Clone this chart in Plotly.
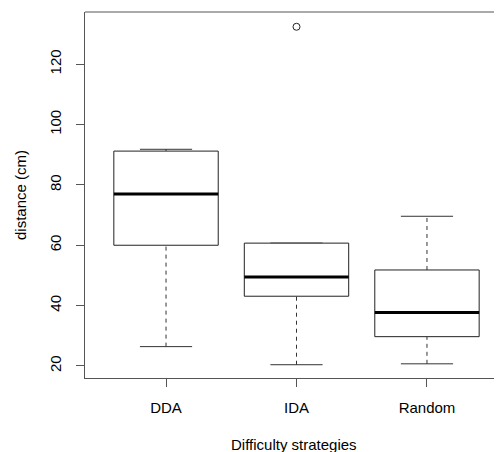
import plotly.graph_objects as go

categories = ["DDA", "IDA", "Random"]
lower_whisker = [26.4, 20.4, 20.7]
q1 = [60.0, 43.1, 29.7]
median = [77.0, 49.5, 37.7]
q3 = [91.2, 60.7, 51.8]
upper_whisker = [91.8, 60.7, 69.6]
outlier_group = ["IDA"]
outlier_values = [132.4]
y_ticks = [20, 40, 60, 80, 100, 120]

FONT = "Liberation Sans, Arial, sans-serif"
BOX_HALF = 0.4
CAP_HALF = 0.2
positions = list(range(1, len(categories) + 1))

fig = go.Figure()
for p, lo, a, m, b, hi in zip(positions, lower_whisker, q1, median, q3, upper_whisker):
    # whiskers (dashed)
    fig.add_trace(go.Scatter(x=[p, p], y=[b, hi], mode="lines",
                             line=dict(color="#333333", width=1, dash="4px,4px"),
                             showlegend=False, hoverinfo="skip"))
    fig.add_trace(go.Scatter(x=[p, p], y=[lo, a], mode="lines",
                             line=dict(color="#333333", width=1, dash="4px,4px"),
                             showlegend=False, hoverinfo="skip"))
    # caps
    for v in (lo, hi):
        fig.add_trace(go.Scatter(x=[p - CAP_HALF, p + CAP_HALF], y=[v, v], mode="lines",
                                 line=dict(color="#333333", width=1),
                                 showlegend=False, hoverinfo="skip"))
    # box
    fig.add_trace(go.Scatter(x=[p - BOX_HALF, p + BOX_HALF, p + BOX_HALF, p - BOX_HALF, p - BOX_HALF],
                             y=[a, a, b, b, a], mode="lines",
                             line=dict(color="#222222", width=1),
                             fill="toself", fillcolor="white",
                             showlegend=False, hoverinfo="skip"))
    # median
    fig.add_trace(go.Scatter(x=[p - BOX_HALF, p + BOX_HALF], y=[m, m], mode="lines",
                             line=dict(color="black", width=3),
                             showlegend=False, hoverinfo="skip"))

out_x = [positions[categories.index(g)] for g in outlier_group]
fig.add_trace(go.Scatter(x=out_x, y=outlier_values, mode="markers",
                         marker=dict(symbol="circle-open", size=7, color="#222222",
                                     line=dict(width=1)),
                         showlegend=False, hoverinfo="skip"))

fig.update_layout(
    width=494, height=444,
    margin=dict(l=77, r=0, t=4, b=74),
    paper_bgcolor="white", plot_bgcolor="white",
    font=dict(family=FONT, size=15, color="black"),
    xaxis=dict(range=[0.379, 3.575], tickmode="array", tickvals=positions, ticktext=categories,
               showgrid=False, zeroline=False, showline=True, linecolor="#555555", linewidth=1,
               ticks="outside", ticklen=8, tickcolor="#555555", ticklabelstandoff=8),
    yaxis=dict(range=[16.0, 137.3], tickmode="array", tickvals=y_ticks,
               showgrid=False, zeroline=False, showline=True, linecolor="#555555", linewidth=1,
               ticks="outside", ticklen=8, tickcolor="#555555", tickangle=-90,
               ticklabelstandoff=9),
    shapes=[dict(type="line", xref="paper", yref="paper", x0=0, x1=1, y0=1, y1=1,
                 line=dict(color="#555555", width=1))],
    annotations=[
        dict(text="Difficulty strategies", xref="paper", yref="paper", x=0.5, y=0,
             yshift=-66, showarrow=False, font=dict(size=15), xanchor="center", yanchor="middle"),
        dict(text="distance (cm)", xref="paper", yref="paper", x=0, y=0.5,
             xshift=-65, showarrow=False, font=dict(size=15), textangle=-90,
             xanchor="center", yanchor="middle"),
    ],
)

fig.write_html("out.html")
